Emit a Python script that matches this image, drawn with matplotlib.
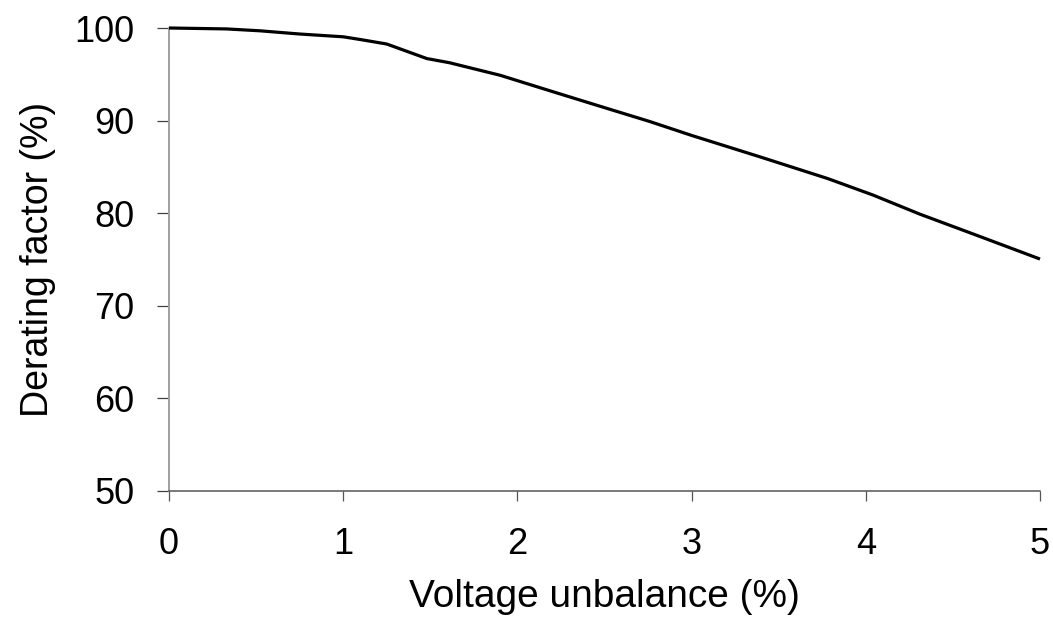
import matplotlib
matplotlib.use("Agg")
import matplotlib.pyplot as plt

# Derating factor of an induction motor vs. voltage unbalance
unbalance = [0.0, 0.33, 0.52, 0.75, 1.0, 1.1, 1.25, 1.48, 1.61, 1.9, 2.19,
             2.5, 2.76, 3.0, 3.39, 3.78, 4.04, 4.31, 4.66, 5.0]
derating = [100.0, 99.9, 99.7, 99.35, 99.05, 98.75, 98.27, 96.7, 96.25, 94.9, 93.2,
            91.4, 89.9, 88.4, 86.1, 83.75, 81.97, 79.9, 77.45, 75.05]

x_ticks = [0, 1, 2, 3, 4, 5]
y_ticks = [50, 60, 70, 80, 90, 100]

plt.rcParams["font.family"] = ["Liberation Sans", "DejaVu Sans"]

fig = plt.figure(figsize=(10.53, 6.19), dpi=100)
ax = fig.add_axes([169 / 1053, 1 - 491 / 619, (1040 - 169) / 1053, (491 - 28) / 619])

ax.plot(unbalance, derating, color="black", lw=2.3, solid_capstyle="butt",
        solid_joinstyle="round", clip_on=False, zorder=3)

ax.set_xlim(0, 5)
ax.set_ylim(50, 100)
ax.set_xticks(x_ticks)
ax.set_yticks(y_ticks)
ax.set_xticklabels([str(v) for v in x_ticks], fontsize=26)
ax.set_yticklabels([str(v) for v in y_ticks], fontsize=26)

for side in ("top", "right"):
    ax.spines[side].set_visible(False)
ax.spines["left"].set_color("#a0a0a0")
ax.spines["bottom"].set_color("#555555")
ax.spines["left"].set_linewidth(1.4)
ax.spines["bottom"].set_linewidth(1.1)

ax.tick_params(axis="x", direction="out", length=7.2, width=0.9, color="#555555", pad=19)
ax.tick_params(axis="y", direction="out", length=8.6, width=0.9, color="#404040", pad=16.5)

ax.set_xlabel("Voltage unbalance (%)", fontsize=28, labelpad=12)
ax.set_ylabel("Derating factor (%)", fontsize=27, labelpad=13)

fig.savefig("out.png", dpi=100, facecolor="white")
